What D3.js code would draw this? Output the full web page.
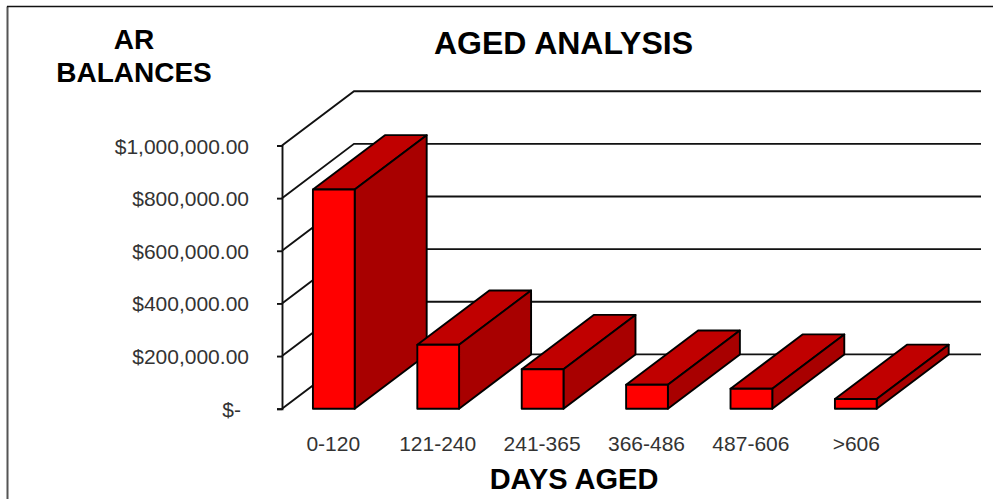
<!DOCTYPE html>
<html>
<head>
<meta charset="utf-8">
<script src="https://cdn.jsdelivr.net/npm/d3@7/dist/d3.min.js"></script>
<style>
html,body{margin:0;padding:0;background:#fff;overflow:hidden}
svg{display:block}
text{font-family:"Liberation Sans",Arial,sans-serif}
</style>
</head>
<body>
<script>
const categories = ["0-120","121-240","241-365","366-486","487-606",">606"];
const balances = [833000,243000,150000,91000,76000,37000];
const tickValues = [0,200000,400000,600000,800000,1000000];
const tickLabels = ["$-","$200,000.00","$400,000.00","$600,000.00","$800,000.00","$1,000,000.00"];
const chartTitle = "AGED ANALYSIS";
const yTitleLines = ["AR","BALANCES"];
const xTitle = "DAYS AGED";

const W = 993, H = 499;
const depthX = 72, depthY = 54.3, wallRight = 981;

const svg = d3.select("body").append("svg").attr("width",W).attr("height",H);
const x = d3.scaleBand().domain(categories).range([281.6,908]).paddingInner(0.6).paddingOuter(0.3);
const y = d3.scaleLinear().domain([0,1000000]).range([408.7,145.5]);
const axisX = 282;

// frame
svg.append("path").attr("d","M7.5,499V6.5").attr("fill","none").attr("stroke","#555").attr("stroke-width",2);
svg.append("path").attr("d","M7,6.5H993").attr("fill","none").attr("stroke","#111").attr("stroke-width",1.5);

// walls: diagonal side-wall lines and back-wall lines
const grid = svg.append("g").attr("fill","none").attr("stroke","#111").attr("stroke-width",1.9);
grid.selectAll("path").data(tickValues).join("path")
  .attr("d",d=>`M${axisX},${y(d)}L${axisX+depthX},${y(d)-depthY}H${wallRight}`);

// y axis
const axis = svg.append("g").attr("transform",`translate(${axisX},0)`)
  .call(d3.axisLeft(y).tickValues(tickValues).tickSize(5).tickPadding(28)
    .tickFormat((d,i)=>tickLabels[i]));
axis.selectAll("path,line").attr("stroke","#111").attr("stroke-width",1.9);
axis.selectAll("text").attr("font-size",21).attr("fill","#333")
  .attr("font-family",'"Liberation Sans",Arial,sans-serif')
  .attr("dx",d=>d===0?-8:0).attr("dy","0.36em");

// 3-D bars
const bars = svg.append("g").attr("stroke","#000").attr("stroke-width",1.9).attr("stroke-linejoin","round");
const bar = bars.selectAll("g").data(categories.map((c,i)=>({c,v:balances[i]}))).join("g");
bar.append("path").attr("fill","#c00000").attr("d",d=>{
  const l=x(d.c), r=l+x.bandwidth(), t=y(d.v);
  return `M${l},${t}L${l+depthX},${t-depthY}H${r+depthX}L${r},${t}Z`;
});
bar.append("path").attr("fill","#a80000").attr("d",d=>{
  const r=x(d.c)+x.bandwidth(), t=y(d.v), b=y(0);
  return `M${r},${t}L${r+depthX},${t-depthY}V${b-depthY}L${r},${b}Z`;
});
bar.append("rect").attr("fill","#ff0000")
  .attr("x",d=>x(d.c)).attr("y",d=>y(d.v))
  .attr("width",x.bandwidth()).attr("height",d=>y(0)-y(d.v));

// category labels
svg.append("g").selectAll("text").data(categories).join("text")
  .attr("x",d=>x(d)+x.bandwidth()/2+(d===">606"?1:0)-0.5).attr("y",451)
  .attr("text-anchor","middle").attr("font-size",21).attr("fill","#333").text(d=>d);

// titles
svg.append("text").attr("x",563.5).attr("y",54).attr("text-anchor","middle")
  .attr("font-size",32).attr("font-weight","bold").attr("fill","#000").text(chartTitle);
svg.append("text").attr("x",574).attr("y",489).attr("text-anchor","middle")
  .attr("font-size",29).attr("font-weight","bold").attr("fill","#000").text(xTitle);
svg.append("g").selectAll("text").data(yTitleLines).join("text")
  .attr("x",134).attr("y",(d,i)=>49+i*33).attr("text-anchor","middle")
  .attr("font-size",28).attr("font-weight","bold").attr("fill","#000").text(d=>d);
</script>
</body>
</html>
